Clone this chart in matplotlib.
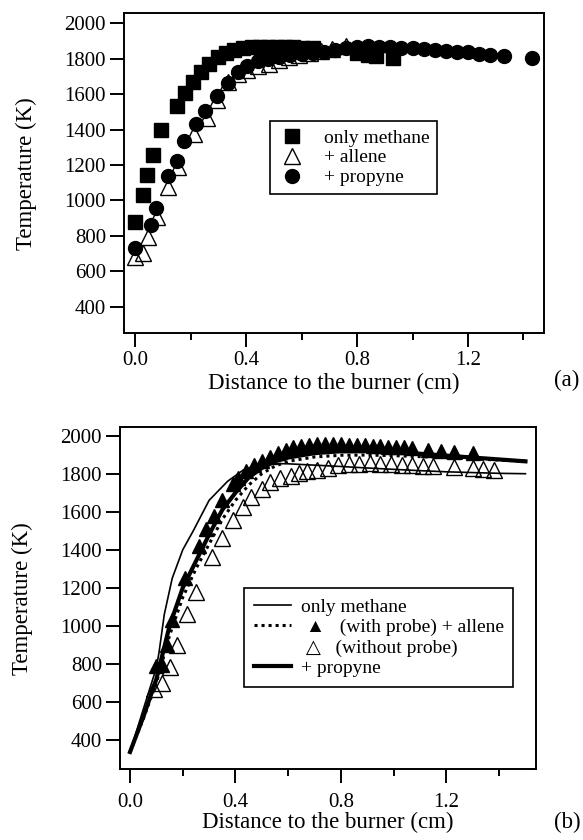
import matplotlib
matplotlib.use("Agg")
import matplotlib.pyplot as plt
from matplotlib.lines import Line2D
from matplotlib.ticker import MultipleLocator

plt.rcParams['font.family'] = ['Liberation Serif', 'DejaVu Sans']

# ---------------- (a) measured profiles ----------------
meth_x = [0.0, 0.03, 0.043, 0.064, 0.094, 0.151, 0.18, 0.208, 0.238, 0.268, 0.298,
          0.328, 0.357, 0.388, 0.42, 0.45, 0.48, 0.51, 0.54, 0.57, 0.60, 0.64,
          0.80, 0.84, 0.87, 0.93]
meth_T = [880, 1031, 1144, 1257, 1398, 1533, 1605, 1671, 1722, 1771, 1808,
          1831, 1850, 1860, 1865, 1865, 1866, 1866, 1865, 1864, 1862, 1858,
          1830, 1820, 1815, 1805]

all_x = [0.0, 0.028, 0.048, 0.079, 0.118, 0.156, 0.214, 0.26, 0.296, 0.334, 0.37,
         0.404, 0.442, 0.484, 0.52, 0.556, 0.592, 0.63, 0.67, 0.71, 0.76]
all_T = [683, 702, 792, 909, 1078, 1191, 1375, 1464, 1567, 1671, 1714,
         1737, 1756, 1771, 1793, 1808, 1821, 1832, 1842, 1852, 1872]

prop_x = [0.0, 0.058, 0.076, 0.12, 0.151, 0.178, 0.22, 0.252, 0.296, 0.336, 0.37,
          0.404, 0.442, 0.48, 0.52, 0.56, 0.60, 0.64, 0.68, 0.72, 0.76, 0.80,
          0.84, 0.88, 0.92, 0.96, 1.00, 1.04, 1.08, 1.12, 1.16, 1.20, 1.24,
          1.28, 1.33, 1.43]
prop_T = [730, 862, 956, 1135, 1225, 1338, 1432, 1502, 1590, 1665, 1727,
          1759, 1787, 1800, 1810, 1818, 1825, 1832, 1840, 1848, 1858, 1866,
          1870, 1868, 1865, 1862, 1858, 1853, 1850, 1845, 1840, 1835, 1828,
          1822, 1815, 1802]

# ---------------- (b) model curves + allene data ----------------
thin_x = [0.0, 0.05, 0.10, 0.11, 0.13, 0.16, 0.20, 0.24, 0.30, 0.37, 0.43, 0.50,
          0.60, 0.70, 0.80, 0.90, 1.00, 1.10, 1.20, 1.30, 1.40, 1.50]
thin_T = [337, 560, 780, 860, 1060, 1250, 1400, 1500, 1660, 1760, 1820, 1855,
          1852, 1845, 1838, 1830, 1823, 1816, 1810, 1806, 1802, 1800]

dot_x = [0.0, 0.05, 0.10, 0.15, 0.20, 0.25, 0.30, 0.35, 0.40, 0.45, 0.50, 0.55,
         0.60, 0.70, 0.80, 0.90, 1.00, 1.10, 1.20, 1.30, 1.40, 1.50]
dot_T = [337, 510, 700, 950, 1150, 1300, 1430, 1560, 1660, 1740, 1800, 1840,
         1865, 1888, 1897, 1898, 1895, 1890, 1884, 1878, 1872, 1866]

thick_x = [0.0, 0.05, 0.10, 0.15, 0.20, 0.25, 0.30, 0.35, 0.40, 0.45, 0.50, 0.55,
           0.60, 0.70, 0.80, 0.90, 1.00, 1.10, 1.20, 1.30, 1.40, 1.50]
thick_T = [337, 520, 720, 1000, 1200, 1340, 1480, 1610, 1700, 1780, 1830, 1865,
           1885, 1908, 1918, 1920, 1915, 1905, 1895, 1885, 1875, 1865]

probe_x = [0.10, 0.12, 0.14, 0.16, 0.21, 0.26, 0.29, 0.32, 0.35, 0.39, 0.41, 0.44,
           0.47, 0.50, 0.53, 0.56, 0.59, 0.62, 0.65, 0.68, 0.71, 0.74, 0.77, 0.80,
           0.83, 0.86, 0.89, 0.92, 0.95, 0.98, 1.01, 1.04, 1.07, 1.13, 1.18,
           1.23, 1.30]
probe_T = [790, 795, 900, 1030, 1250, 1420, 1510, 1580, 1660, 1745, 1780, 1815,
           1845, 1865, 1890, 1910, 1925, 1940, 1948, 1952, 1955, 1955, 1955, 1955,
           1953, 1952, 1950, 1948, 1946, 1943, 1940, 1938, 1935, 1925, 1920,
           1915, 1910]

noprobe_x = [0.09, 0.12, 0.15, 0.18, 0.215, 0.25, 0.31, 0.35, 0.39, 0.43, 0.46,
             0.50, 0.53, 0.57, 0.61, 0.64, 0.67, 0.71, 0.75, 0.79, 0.83, 0.87,
             0.91, 0.95, 0.99, 1.03, 1.07, 1.11, 1.15, 1.23, 1.30, 1.34, 1.38]
noprobe_T = [670, 700, 785, 900, 1065, 1180, 1360, 1460, 1555, 1625, 1675,
             1720, 1755, 1775, 1790, 1805, 1815, 1822, 1830, 1845, 1850, 1852,
             1855, 1852, 1850, 1848, 1845, 1842, 1840, 1835, 1830, 1825, 1820]

xticks = [0.0, 0.4, 0.8, 1.2]
yticks = [400, 600, 800, 1000, 1200, 1400, 1600, 1800, 2000]

fig = plt.figure(figsize=(5.83, 8.4), dpi=100)
ax1 = fig.add_axes([124/583, 1-333.3/840, 420/583, 320/840])
ax2 = fig.add_axes([120/583, 1-769.3/840, 416/583, 342/840])

# panel (a)
ax1.plot(meth_x, meth_T, 's', color='k', ms=10, label='only methane')
ax1.plot(all_x, all_T, '^', color='k', mfc='none', ms=11, mew=1.0, label='+ allene')
ax1.plot(prop_x, prop_T, 'o', color='k', ms=10, label='+ propyne')
ax1.set_xlim(-0.04, 1.474)
ax1.set_ylim(250, 2056)
leg1 = ax1.legend(loc='upper left', bbox_to_anchor=(0.348, 0.663), borderaxespad=0,
                  numpoints=1, fontsize=14, fancybox=False, edgecolor='k',
                  framealpha=1, handletextpad=0.95, labelspacing=0.12,
                  borderpad=0.4, handlelength=1.4)
leg1.get_frame().set_linewidth(1.2)

# panel (b)
ax2.plot(thin_x, thin_T, '-', color='k', lw=1.2)
ax2.plot(dot_x, dot_T, color='k', lw=2.2, ls=(0, (1, 1.3)))
ax2.plot(thick_x, thick_T, '-', color='k', lw=3)
ax2.plot(probe_x, probe_T, '^', color='k', ms=10)
ax2.plot(noprobe_x, noprobe_T, '^', color='k', mfc='none', ms=11, mew=1.0)
ax2.set_xlim(-0.038, 1.54)
ax2.set_ylim(246, 2044)

handles = [Line2D([], [], color='k', lw=1.2),
           Line2D([], [], color='k', lw=2.2, ls=(0, (1, 1.3))),
           Line2D([], [], color='none'),
           Line2D([], [], color='k', lw=3)]
labels = ['only methane', ' \u25b2   (with probe) + allene',
          ' \u25b3   (without probe)', '+ propyne']
leg2 = ax2.legend(handles, labels, loc='upper left', bbox_to_anchor=(0.299, 0.529),
                  borderaxespad=0, fontsize=14, fancybox=False, edgecolor='k',
                  framealpha=1, handletextpad=0.5, labelspacing=0.14,
                  borderpad=0.5, handlelength=1.9)
leg2.get_frame().set_linewidth(1.2)

for ax in (ax1, ax2):
    ax.set_xticks(xticks)
    ax.set_xticklabels(['%.1f' % v for v in xticks])
    ax.xaxis.set_minor_locator(MultipleLocator(0.2))
    ax.set_yticks(yticks)
    ax.tick_params(which='major', direction='out', length=10, width=1.4,
                   labelsize=15, pad=3)
    ax.tick_params(which='minor', axis='x', direction='out', length=5, width=1.4)
    for sp in ax.spines.values():
        sp.set_linewidth(1.4)
    ax.set_ylabel('Temperature (K)', fontsize=16.5, labelpad=20)

ax1.set_xlabel('Distance to the burner (cm)', fontsize=16.5, labelpad=2)
ax2.tick_params(axis='x', which='major', pad=7)
ax2.set_xlabel('Distance to the burner (cm)', fontsize=16.5, labelpad=0)

fig.text(567/583, 1-380/840, '(a)', fontsize=16.5, ha='center', va='center')
fig.text(567/583, 1-822/840, '(b)', fontsize=16.5, ha='center', va='center')

fig.savefig('out.png', dpi=100)
